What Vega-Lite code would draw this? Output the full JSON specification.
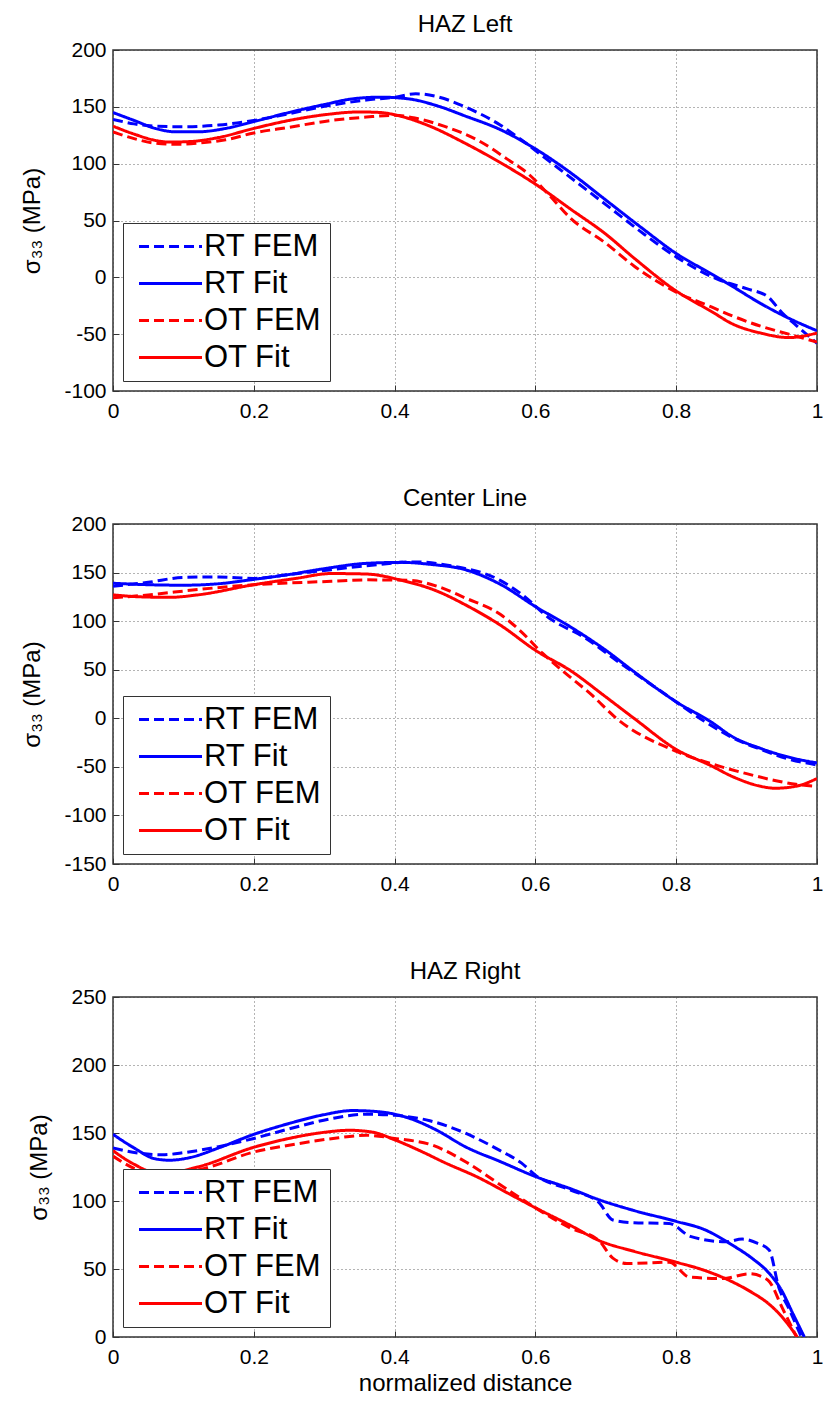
{
  "$schema": "https://vega.github.io/schema/vega-lite/v6.json",
  "padding": {"left": 20, "right": 5, "top": 12, "bottom": 5},
  "spacing": 64,
  "config": {
    "font": "Liberation Sans",
    "view": {"stroke": "#333", "strokeWidth": 1.5},
    "axis": {"labelFontSize": 21, "labelColor": "#000", "labelFont": "Liberation Sans", "titleFontSize": 24, "titleFontWeight": "normal", "titleColor": "#000", "titleFont": "Liberation Sans, DejaVu Sans", "domain": false, "grid": true, "gridColor": "#444", "gridDash": [1, 3], "gridWidth": 1, "gridOpacity": 0.8, "tickColor": "#333", "tickSize": -6, "labelPadding": 13},
    "axisX": {"labelPadding": 15, "labelFlush": false},
    "axisY": {"titlePadding": 19, "labelExpr": "datum.value < 0 ? '-' + abs(datum.value) : '' + datum.value"},
    "title": {"fontSize": 24, "fontWeight": "normal", "color": "#000", "offset": 2, "font": "Liberation Sans"},
    "legend": {"orient": "bottom-left", "offset": 10, "title": null, "fillColor": "white", "strokeColor": "#333", "padding": 8, "labelFontSize": 31, "labelColor": "#000", "labelFont": "Liberation Sans", "symbolType": "M-3,0H3", "symbolSize": 441, "symbolOffset": 24, "symbolStrokeWidth": 3, "rowPadding": 5, "labelOffset": 18, "labelLimit": 300}
  },
  "resolve": {"scale": {"color": "independent", "strokeDash": "independent", "y": "independent"}, "legend": {"color": "independent", "strokeDash": "independent"}},
  "vconcat": [
    {
      "width": 704, "height": 341,
      "title": "HAZ Left",
      "data": {"values": [
        {"s":"RT Fit","x":0,"v":145},{"s":"RT Fit","x":0.03,"v":138},{"s":"RT Fit","x":0.06,"v":131},{"s":"RT Fit","x":0.09,"v":128},{"s":"RT Fit","x":0.12,"v":128},{"s":"RT Fit","x":0.16,"v":131},{"s":"RT Fit","x":0.2,"v":137},{"s":"RT Fit","x":0.25,"v":145},{"s":"RT Fit","x":0.3,"v":152},{"s":"RT Fit","x":0.34,"v":157},{"s":"RT Fit","x":0.38,"v":158.5},{"s":"RT Fit","x":0.42,"v":157},{"s":"RT Fit","x":0.46,"v":151},{"s":"RT Fit","x":0.5,"v":142},{"s":"RT Fit","x":0.55,"v":130},{"s":"RT Fit","x":0.6,"v":113},{"s":"RT Fit","x":0.65,"v":92},{"s":"RT Fit","x":0.7,"v":68},{"s":"RT Fit","x":0.75,"v":44},{"s":"RT Fit","x":0.8,"v":21},{"s":"RT Fit","x":0.85,"v":3},{"s":"RT Fit","x":0.88,"v":-8},{"s":"RT Fit","x":0.92,"v":-23},{"s":"RT Fit","x":0.96,"v":-36},{"s":"RT Fit","x":1,"v":-47},
        {"s":"RT FEM","x":0,"v":139},{"s":"RT FEM","x":0.03,"v":135},{"s":"RT FEM","x":0.06,"v":133},{"s":"RT FEM","x":0.1,"v":132.5},{"s":"RT FEM","x":0.15,"v":134},{"s":"RT FEM","x":0.2,"v":138},{"s":"RT FEM","x":0.25,"v":144},{"s":"RT FEM","x":0.31,"v":151.5},{"s":"RT FEM","x":0.36,"v":156},{"s":"RT FEM","x":0.4,"v":158.5},{"s":"RT FEM","x":0.43,"v":161.5},{"s":"RT FEM","x":0.46,"v":159},{"s":"RT FEM","x":0.5,"v":150},{"s":"RT FEM","x":0.55,"v":134},{"s":"RT FEM","x":0.58,"v":121},{"s":"RT FEM","x":0.62,"v":102},{"s":"RT FEM","x":0.66,"v":83},{"s":"RT FEM","x":0.7,"v":64},{"s":"RT FEM","x":0.75,"v":40},{"s":"RT FEM","x":0.8,"v":18},{"s":"RT FEM","x":0.86,"v":-2},{"s":"RT FEM","x":0.9,"v":-10},{"s":"RT FEM","x":0.93,"v":-17},{"s":"RT FEM","x":0.95,"v":-31},{"s":"RT FEM","x":0.97,"v":-42},{"s":"RT FEM","x":1,"v":-58},
        {"s":"OT Fit","x":0,"v":133},{"s":"OT Fit","x":0.03,"v":126},{"s":"OT Fit","x":0.06,"v":120.5},{"s":"OT Fit","x":0.08,"v":119},{"s":"OT Fit","x":0.11,"v":119.5},{"s":"OT Fit","x":0.15,"v":123},{"s":"OT Fit","x":0.2,"v":131},{"s":"OT Fit","x":0.25,"v":138},{"s":"OT Fit","x":0.3,"v":143},{"s":"OT Fit","x":0.35,"v":145.5},{"s":"OT Fit","x":0.38,"v":145},{"s":"OT Fit","x":0.41,"v":141.5},{"s":"OT Fit","x":0.45,"v":133},{"s":"OT Fit","x":0.5,"v":118},{"s":"OT Fit","x":0.55,"v":101},{"s":"OT Fit","x":0.6,"v":82},{"s":"OT Fit","x":0.65,"v":60},{"s":"OT Fit","x":0.7,"v":38},{"s":"OT Fit","x":0.74,"v":17},{"s":"OT Fit","x":0.8,"v":-12},{"s":"OT Fit","x":0.85,"v":-30},{"s":"OT Fit","x":0.88,"v":-41},{"s":"OT Fit","x":0.92,"v":-49},{"s":"OT Fit","x":0.96,"v":-53},{"s":"OT Fit","x":1,"v":-49},
        {"s":"OT FEM","x":0,"v":128},{"s":"OT FEM","x":0.03,"v":122},{"s":"OT FEM","x":0.06,"v":118},{"s":"OT FEM","x":0.09,"v":117},{"s":"OT FEM","x":0.12,"v":118},{"s":"OT FEM","x":0.16,"v":121},{"s":"OT FEM","x":0.2,"v":127},{"s":"OT FEM","x":0.25,"v":132},{"s":"OT FEM","x":0.31,"v":138},{"s":"OT FEM","x":0.36,"v":141},{"s":"OT FEM","x":0.4,"v":142.5},{"s":"OT FEM","x":0.43,"v":140},{"s":"OT FEM","x":0.47,"v":133},{"s":"OT FEM","x":0.52,"v":120},{"s":"OT FEM","x":0.56,"v":104},{"s":"OT FEM","x":0.59,"v":91},{"s":"OT FEM","x":0.62,"v":72},{"s":"OT FEM","x":0.65,"v":52},{"s":"OT FEM","x":0.7,"v":30},{"s":"OT FEM","x":0.74,"v":10},{"s":"OT FEM","x":0.8,"v":-13},{"s":"OT FEM","x":0.85,"v":-26},{"s":"OT FEM","x":0.88,"v":-34},{"s":"OT FEM","x":0.92,"v":-43},{"s":"OT FEM","x":0.96,"v":-50},{"s":"OT FEM","x":1,"v":-57}
      ]},
      "mark": {"type": "line", "strokeWidth": 3, "interpolate": "monotone", "clip": true},
      "encoding": {
        "x": {"field": "x", "type": "quantitative", "scale": {"domain": [0, 1]}, "axis": {"values": [0, 0.2, 0.4, 0.6, 0.8, 1], "format": "~g", "title": null}},
        "y": {"field": "v", "type": "quantitative", "scale": {"domain": [-100, 200]}, "axis": {"values": [-100, -50, 0, 50, 100, 150, 200], "title": "σ₃₃ (MPa)"}},
        "color": {"field": "s", "type": "nominal", "scale": {"domain": ["RT FEM", "RT Fit", "OT FEM", "OT Fit"], "range": ["#0000ff", "#0000ff", "#ff0000", "#ff0000"]}},
        "strokeDash": {"field": "s", "type": "nominal", "scale": {"domain": ["RT FEM", "RT Fit", "OT FEM", "OT Fit"], "range": [[10, 5], [1, 0], [10, 5], [1, 0]]}}
      }
    },
    {
      "width": 704, "height": 340,
      "title": "Center Line",
      "data": {"values": [
        {"s":"RT Fit","x":0,"v":139},{"s":"RT Fit","x":0.05,"v":137.5},{"s":"RT Fit","x":0.1,"v":137},{"s":"RT Fit","x":0.15,"v":138.5},{"s":"RT Fit","x":0.2,"v":143},{"s":"RT Fit","x":0.25,"v":148},{"s":"RT Fit","x":0.3,"v":154},{"s":"RT Fit","x":0.36,"v":159.5},{"s":"RT Fit","x":0.41,"v":160.5},{"s":"RT Fit","x":0.45,"v":158.5},{"s":"RT Fit","x":0.5,"v":153},{"s":"RT Fit","x":0.55,"v":138},{"s":"RT Fit","x":0.6,"v":115},{"s":"RT Fit","x":0.65,"v":94},{"s":"RT Fit","x":0.7,"v":70},{"s":"RT Fit","x":0.74,"v":48},{"s":"RT Fit","x":0.8,"v":17},{"s":"RT Fit","x":0.85,"v":-4},{"s":"RT Fit","x":0.88,"v":-19},{"s":"RT Fit","x":0.92,"v":-31},{"s":"RT Fit","x":0.96,"v":-40},{"s":"RT Fit","x":1,"v":-46},
        {"s":"RT FEM","x":0,"v":136},{"s":"RT FEM","x":0.05,"v":140},{"s":"RT FEM","x":0.1,"v":145},{"s":"RT FEM","x":0.15,"v":145.5},{"s":"RT FEM","x":0.2,"v":144},{"s":"RT FEM","x":0.25,"v":148},{"s":"RT FEM","x":0.31,"v":153},{"s":"RT FEM","x":0.36,"v":157},{"s":"RT FEM","x":0.43,"v":161},{"s":"RT FEM","x":0.48,"v":157},{"s":"RT FEM","x":0.55,"v":142},{"s":"RT FEM","x":0.58,"v":128},{"s":"RT FEM","x":0.62,"v":103},{"s":"RT FEM","x":0.67,"v":83},{"s":"RT FEM","x":0.72,"v":57},{"s":"RT FEM","x":0.78,"v":27},{"s":"RT FEM","x":0.84,"v":-3},{"s":"RT FEM","x":0.88,"v":-20},{"s":"RT FEM","x":0.92,"v":-32},{"s":"RT FEM","x":0.96,"v":-42},{"s":"RT FEM","x":1,"v":-48},
        {"s":"OT Fit","x":0,"v":127},{"s":"OT Fit","x":0.04,"v":125},{"s":"OT Fit","x":0.08,"v":124.5},{"s":"OT Fit","x":0.12,"v":127},{"s":"OT Fit","x":0.2,"v":137.5},{"s":"OT Fit","x":0.26,"v":144},{"s":"OT Fit","x":0.31,"v":149},{"s":"OT Fit","x":0.36,"v":148.5},{"s":"OT Fit","x":0.41,"v":142},{"s":"OT Fit","x":0.46,"v":131},{"s":"OT Fit","x":0.5,"v":117},{"s":"OT Fit","x":0.55,"v":96},{"s":"OT Fit","x":0.6,"v":70},{"s":"OT Fit","x":0.65,"v":49},{"s":"OT Fit","x":0.7,"v":22},{"s":"OT Fit","x":0.74,"v":0},{"s":"OT Fit","x":0.8,"v":-32},{"s":"OT Fit","x":0.85,"v":-49},{"s":"OT Fit","x":0.88,"v":-60},{"s":"OT Fit","x":0.92,"v":-70},{"s":"OT Fit","x":0.94,"v":-72},{"s":"OT Fit","x":0.97,"v":-70},{"s":"OT Fit","x":1,"v":-62},
        {"s":"OT FEM","x":0,"v":124},{"s":"OT FEM","x":0.05,"v":127},{"s":"OT FEM","x":0.12,"v":132.5},{"s":"OT FEM","x":0.2,"v":137.5},{"s":"OT FEM","x":0.31,"v":141},{"s":"OT FEM","x":0.36,"v":142.5},{"s":"OT FEM","x":0.42,"v":142},{"s":"OT FEM","x":0.46,"v":136},{"s":"OT FEM","x":0.5,"v":124},{"s":"OT FEM","x":0.55,"v":107},{"s":"OT FEM","x":0.58,"v":89},{"s":"OT FEM","x":0.61,"v":67},{"s":"OT FEM","x":0.64,"v":48},{"s":"OT FEM","x":0.68,"v":24},{"s":"OT FEM","x":0.715,"v":0},{"s":"OT FEM","x":0.8,"v":-34},{"s":"OT FEM","x":0.86,"v":-49},{"s":"OT FEM","x":0.9,"v":-57},{"s":"OT FEM","x":0.94,"v":-64},{"s":"OT FEM","x":0.97,"v":-68},{"s":"OT FEM","x":1,"v":-70}
      ]},
      "mark": {"type": "line", "strokeWidth": 3, "interpolate": "monotone", "clip": true},
      "encoding": {
        "x": {"field": "x", "type": "quantitative", "scale": {"domain": [0, 1]}, "axis": {"values": [0, 0.2, 0.4, 0.6, 0.8, 1], "format": "~g", "title": null}},
        "y": {"field": "v", "type": "quantitative", "scale": {"domain": [-150, 200]}, "axis": {"values": [-150, -100, -50, 0, 50, 100, 150, 200], "title": "σ₃₃ (MPa)"}},
        "color": {"field": "s", "type": "nominal", "scale": {"domain": ["RT FEM", "RT Fit", "OT FEM", "OT Fit"], "range": ["#0000ff", "#0000ff", "#ff0000", "#ff0000"]}},
        "strokeDash": {"field": "s", "type": "nominal", "scale": {"domain": ["RT FEM", "RT Fit", "OT FEM", "OT Fit"], "range": [[10, 5], [1, 0], [10, 5], [1, 0]]}}
      }
    },
    {
      "width": 704, "height": 340,
      "title": "HAZ Right",
      "data": {"values": [
        {"s":"RT Fit","x":0,"v":149},{"s":"RT Fit","x":0.03,"v":139},{"s":"RT Fit","x":0.06,"v":131},{"s":"RT Fit","x":0.08,"v":130},{"s":"RT Fit","x":0.11,"v":132},{"s":"RT Fit","x":0.15,"v":139},{"s":"RT Fit","x":0.2,"v":149},{"s":"RT Fit","x":0.25,"v":157},{"s":"RT Fit","x":0.3,"v":163.5},{"s":"RT Fit","x":0.34,"v":166.5},{"s":"RT Fit","x":0.38,"v":165.5},{"s":"RT Fit","x":0.42,"v":161},{"s":"RT Fit","x":0.46,"v":152},{"s":"RT Fit","x":0.5,"v":140},{"s":"RT Fit","x":0.55,"v":129},{"s":"RT Fit","x":0.6,"v":118},{"s":"RT Fit","x":0.65,"v":109},{"s":"RT Fit","x":0.69,"v":101},{"s":"RT Fit","x":0.74,"v":93},{"s":"RT Fit","x":0.8,"v":85},{"s":"RT Fit","x":0.84,"v":79},{"s":"RT Fit","x":0.88,"v":67.5},{"s":"RT Fit","x":0.91,"v":57},{"s":"RT Fit","x":0.93,"v":48},{"s":"RT Fit","x":0.95,"v":34},{"s":"RT Fit","x":0.965,"v":18},{"s":"RT Fit","x":0.982,"v":0},
        {"s":"RT FEM","x":0,"v":139},{"s":"RT FEM","x":0.04,"v":135},{"s":"RT FEM","x":0.07,"v":134},{"s":"RT FEM","x":0.1,"v":135.5},{"s":"RT FEM","x":0.15,"v":140},{"s":"RT FEM","x":0.2,"v":146},{"s":"RT FEM","x":0.25,"v":153},{"s":"RT FEM","x":0.31,"v":160.5},{"s":"RT FEM","x":0.36,"v":163.8},{"s":"RT FEM","x":0.4,"v":163},{"s":"RT FEM","x":0.45,"v":159},{"s":"RT FEM","x":0.5,"v":150},{"s":"RT FEM","x":0.55,"v":137},{"s":"RT FEM","x":0.58,"v":128},{"s":"RT FEM","x":0.6,"v":119},{"s":"RT FEM","x":0.65,"v":108},{"s":"RT FEM","x":0.69,"v":99},{"s":"RT FEM","x":0.71,"v":86},{"s":"RT FEM","x":0.74,"v":84},{"s":"RT FEM","x":0.79,"v":83.5},{"s":"RT FEM","x":0.82,"v":74},{"s":"RT FEM","x":0.87,"v":70},{"s":"RT FEM","x":0.894,"v":72},{"s":"RT FEM","x":0.915,"v":69},{"s":"RT FEM","x":0.932,"v":64},{"s":"RT FEM","x":0.946,"v":36},{"s":"RT FEM","x":0.96,"v":21},{"s":"RT FEM","x":0.977,"v":1},
        {"s":"OT Fit","x":0,"v":137},{"s":"OT Fit","x":0.03,"v":127},{"s":"OT Fit","x":0.06,"v":121},{"s":"OT Fit","x":0.08,"v":121},{"s":"OT Fit","x":0.12,"v":125},{"s":"OT Fit","x":0.2,"v":139.5},{"s":"OT Fit","x":0.25,"v":146},{"s":"OT Fit","x":0.3,"v":150.5},{"s":"OT Fit","x":0.336,"v":152},{"s":"OT Fit","x":0.37,"v":150.5},{"s":"OT Fit","x":0.4,"v":145},{"s":"OT Fit","x":0.44,"v":136},{"s":"OT Fit","x":0.47,"v":128.5},{"s":"OT Fit","x":0.52,"v":117},{"s":"OT Fit","x":0.56,"v":106},{"s":"OT Fit","x":0.6,"v":95},{"s":"OT Fit","x":0.65,"v":82},{"s":"OT Fit","x":0.69,"v":71},{"s":"OT Fit","x":0.74,"v":63},{"s":"OT Fit","x":0.8,"v":55},{"s":"OT Fit","x":0.84,"v":49},{"s":"OT Fit","x":0.88,"v":40.5},{"s":"OT Fit","x":0.91,"v":32},{"s":"OT Fit","x":0.93,"v":25},{"s":"OT Fit","x":0.95,"v":15},{"s":"OT Fit","x":0.972,"v":0},
        {"s":"OT FEM","x":0,"v":133},{"s":"OT FEM","x":0.03,"v":124},{"s":"OT FEM","x":0.06,"v":119.5},{"s":"OT FEM","x":0.09,"v":120},{"s":"OT FEM","x":0.13,"v":124},{"s":"OT FEM","x":0.2,"v":136},{"s":"OT FEM","x":0.25,"v":141},{"s":"OT FEM","x":0.31,"v":145.8},{"s":"OT FEM","x":0.36,"v":148.3},{"s":"OT FEM","x":0.4,"v":146},{"s":"OT FEM","x":0.454,"v":141},{"s":"OT FEM","x":0.502,"v":128.5},{"s":"OT FEM","x":0.55,"v":112},{"s":"OT FEM","x":0.6,"v":95},{"s":"OT FEM","x":0.65,"v":80},{"s":"OT FEM","x":0.69,"v":71},{"s":"OT FEM","x":0.71,"v":58},{"s":"OT FEM","x":0.73,"v":54},{"s":"OT FEM","x":0.79,"v":55},{"s":"OT FEM","x":0.819,"v":44},{"s":"OT FEM","x":0.866,"v":43},{"s":"OT FEM","x":0.904,"v":46.5},{"s":"OT FEM","x":0.93,"v":42},{"s":"OT FEM","x":0.951,"v":21},{"s":"OT FEM","x":0.97,"v":1}
      ]},
      "mark": {"type": "line", "strokeWidth": 3, "interpolate": "monotone", "clip": true},
      "encoding": {
        "x": {"field": "x", "type": "quantitative", "scale": {"domain": [0, 1]}, "axis": {"values": [0, 0.2, 0.4, 0.6, 0.8, 1], "format": "~g", "title": "normalized distance", "titlePadding": 4}},
        "y": {"field": "v", "type": "quantitative", "scale": {"domain": [0, 250]}, "axis": {"values": [0, 50, 100, 150, 200, 250], "title": "σ₃₃ (MPa)"}},
        "color": {"field": "s", "type": "nominal", "scale": {"domain": ["RT FEM", "RT Fit", "OT FEM", "OT Fit"], "range": ["#0000ff", "#0000ff", "#ff0000", "#ff0000"]}},
        "strokeDash": {"field": "s", "type": "nominal", "scale": {"domain": ["RT FEM", "RT Fit", "OT FEM", "OT Fit"], "range": [[10, 5], [1, 0], [10, 5], [1, 0]]}}
      }
    }
  ]
}
